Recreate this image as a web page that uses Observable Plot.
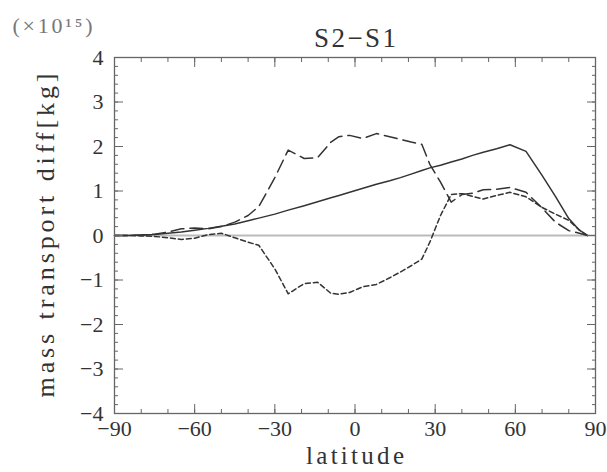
<!DOCTYPE html>
<html><head><meta charset="utf-8">
<script src="https://cdn.jsdelivr.net/npm/d3@7"></script>
<script src="https://cdn.jsdelivr.net/npm/@observablehq/plot@0.6"></script>
<style>
body{margin:0;background:#fff;}
svg text{font-family:"Liberation Serif",serif;}
</style>
</head><body><div id="chart"></div>
<script>
const lat = [-90,-85,-80,-75,-70,-65,-60,-55,-50,-45,-40,-36,-30,-25,-19,-14,-9,-6,-2,3,8,13,17,21,25,28,32,36,40,44,48,53,58,64,70,75,80,84,87];
const solid = [0,0,0.01,0.02,0.05,0.08,0.12,0.16,0.21,0.26,0.33,0.39,0.48,0.57,0.67,0.76,0.85,0.9,0.97,1.06,1.15,1.23,1.3,1.38,1.46,1.52,1.58,1.65,1.72,1.8,1.87,1.95,2.04,1.89,1.35,0.88,0.38,0.12,0];
const longDash = [0,0,0.01,0.03,0.08,0.15,0.17,0.15,0.2,0.3,0.45,0.65,1.3,1.92,1.73,1.75,2.1,2.22,2.25,2.18,2.29,2.22,2.16,2.1,2.05,1.6,1.2,0.75,0.92,0.95,1.03,1.04,1.08,0.97,0.62,0.3,0.11,0.05,0];
const shortDash = [0,0,-0.01,-0.02,-0.05,-0.09,-0.06,0.02,0.05,-0.05,-0.15,-0.22,-0.75,-1.31,-1.08,-1.05,-1.3,-1.32,-1.28,-1.15,-1.1,-0.95,-0.82,-0.68,-0.53,-0.15,0.45,0.92,0.94,0.88,0.82,0.9,0.97,0.87,0.63,0.48,0.34,0.12,0];
const xMajor = [-90,-60,-30,0,30,60,90];
const xMinor = d3.range(-90,91,10);
const yMajor = [-4,-3,-2,-1,0,1,2,3,4];
const yMinor = d3.range(-40,41,2).map(d=>d/10);
const title = "S2\u2212S1";
const scaleNote = "(\u00d710\u00b9\u2075)";
const xLabel = "latitude";
const yLabel = "mass transport diff[kg]";

const rows = (vals) => lat.map((x,i)=>({x, y: vals[i]}));
const fmt = d => d < 0 ? "\u2212" + Math.abs(d) : String(d);
const col = "#333";
const axc = "#666";

const chart = Plot.plot({
  width: 607, height: 472,
  marginLeft: 114, marginRight: 12, marginTop: 57, marginBottom: 59,
  style: {fontSize: "22px", color: col, background: "#fff"},
  x: {domain: [-90, 90]},
  y: {domain: [-4, 4]},
  marks: [
    Plot.ruleY([0], {stroke: "#bbb", strokeWidth: 2}),
    Plot.line(rows(solid), {x: "x", y: "y", stroke: col, strokeWidth: 1.5}),
    Plot.line(rows(longDash), {x: "x", y: "y", stroke: col, strokeWidth: 1.5, strokeDasharray: "13,6"}),
    Plot.line(rows(shortDash), {x: "x", y: "y", stroke: col, strokeWidth: 1.5, strokeDasharray: "5,3"}),
    Plot.frame({stroke: axc, strokeWidth: 1.3}),
    Plot.axisX({anchor: "bottom", ticks: xMajor, tickSize: -9, text: null, label: null, stroke: axc}),
    Plot.axisX({anchor: "bottom", ticks: xMinor, tickSize: -4, text: null, label: null, stroke: axc}),
    Plot.axisX({anchor: "top", ticks: xMajor, tickSize: -9, text: null, label: null, stroke: axc}),
    Plot.axisX({anchor: "top", ticks: xMinor, tickSize: -4, text: null, label: null, stroke: axc}),
    Plot.axisY({anchor: "left", ticks: yMajor, tickSize: -9, text: null, label: null, stroke: axc}),
    Plot.axisY({anchor: "left", ticks: yMinor, tickSize: -4, text: null, label: null, stroke: axc}),
    Plot.axisY({anchor: "right", ticks: yMajor, tickSize: -9, text: null, label: null, stroke: axc}),
    Plot.axisY({anchor: "right", ticks: yMinor, tickSize: -4, text: null, label: null, stroke: axc}),
    Plot.axisX({anchor: "bottom", ticks: xMajor, tickSize: 0, tickPadding: 7, tickFormat: fmt, fontSize: 22, fill: col, label: null}),
    Plot.axisY({anchor: "left", ticks: yMajor, tickSize: 0, tickPadding: 11, tickFormat: fmt, fontSize: 22, fill: col, label: null}),
    Plot.text([xLabel], {frameAnchor: "bottom", dy: 50, fontSize: 25, fill: col, text: d => d}),
    Plot.text([yLabel], {frameAnchor: "bottom-left", dx: -61, dy: -16, rotate: -90, textAnchor: "start", fontSize: 26, fill: col, text: d => d}),
    Plot.text([title], {frameAnchor: "top", dy: -30, fontSize: 27, fill: col, text: d => d}),
    Plot.text([scaleNote], {frameAnchor: "top-left", dx: -102, dy: -40, textAnchor: "start", fontSize: 22, fill: "#777", text: d => d})
  ]
});
const lengths = new Map([[xLabel, 98], [yLabel, 324], [title, 82], [scaleNote, 80]]);
d3.select(chart).selectAll("text").each(function(){
  const L = lengths.get(this.textContent);
  if (L) { this.setAttribute("textLength", L); this.setAttribute("lengthAdjust", "spacing"); }
});
document.getElementById("chart").appendChild(chart);
</script>
</body></html>
